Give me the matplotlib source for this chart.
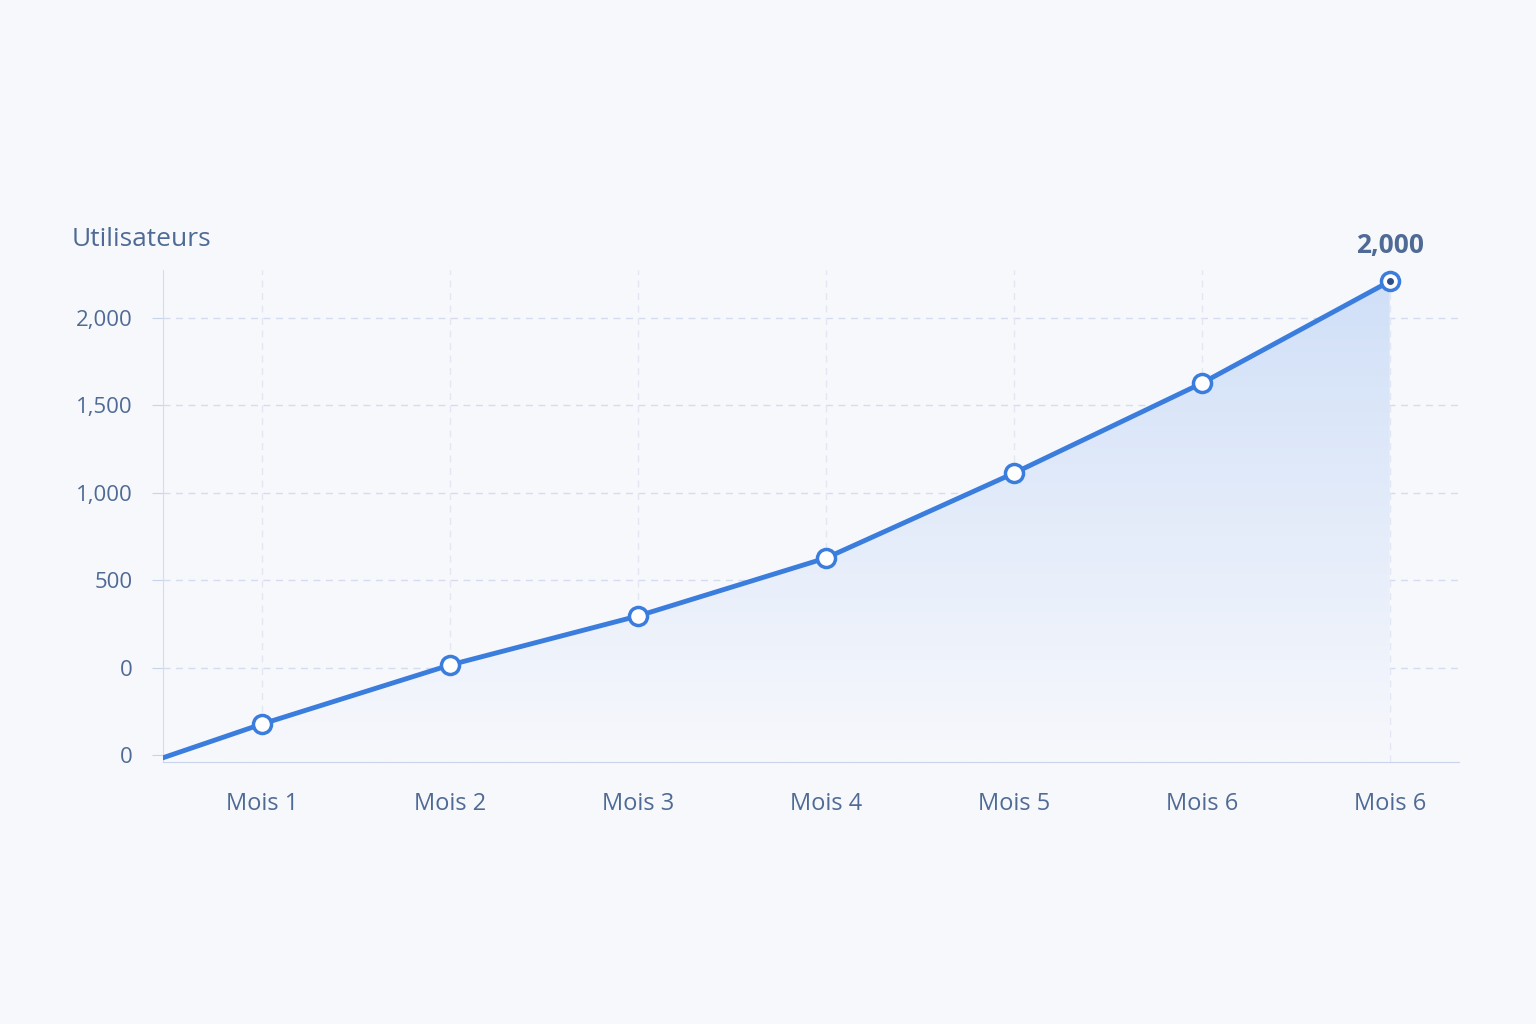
import numpy as np
import matplotlib.pyplot as plt
from matplotlib.patches import Polygon

plt.rcParams['font.family'] = ['Open Sans', 'DejaVu Sans']

months = ["Mois 1", "Mois 2", "Mois 3", "Mois 4", "Mois 5", "Mois 6", "Mois 6"]
x_pos = [1, 2, 3, 4, 5, 6, 7]
users = [-320, 17, 297, 628, 1113, 1627, 2209]
start_x, start_y = 0.47, -514
ytick_vals = [-500, 0, 500, 1000, 1500, 2000]
ytick_labels = ["0", "0", "500", "1,000", "1,500", "2,000"]

bg = "#f7f8fc"
blue = "#3b7ddd"
text_col = "#4f6b95"

fig = plt.figure(figsize=(15.36, 10.24), dpi=100, facecolor=bg)
ax = fig.add_axes([0.106, 0.256, 0.844, 0.48])
ax.set_facecolor(bg)

xs = [start_x] + x_pos
ys = [start_y] + users
ax.set_xlim(0.47, 7.37)
ax.set_ylim(-537, 2272)

# gradient fill under the line
grad = np.linspace(0.0, 0.3, 256).reshape(-1, 1)
cmap = plt.matplotlib.colors.LinearSegmentedColormap.from_list("g", [bg, "#c9dbf7"])
im = ax.imshow(grad, extent=[start_x, 7, -537, 2272], origin="lower",
               aspect="auto", cmap=cmap, vmin=0, vmax=0.35, zorder=1)
poly = Polygon(list(zip(xs, ys)) + [(7, -537), (start_x, -537)], closed=True,
               transform=ax.transData, facecolor="none", edgecolor="none")
ax.add_patch(poly)
im.set_clip_path(poly)

for v in ytick_vals[1:]:
    ax.axhline(v, color="#d5dcef", lw=1, ls=(0, (5, 4)), zorder=0)
for xp in x_pos:
    ax.axvline(xp, color="#e3e7f4", lw=1, ls=(0, (5, 4)), zorder=0)

ax.plot(xs, ys, color=blue, lw=3.5, zorder=3, solid_capstyle="round")
ax.plot(x_pos, users, "o", ms=13, mfc="white", mec=blue, mew=2.5, zorder=4)
ax.plot(x_pos[-1], users[-1], "o", ms=4, color="#2a4f8a", zorder=5)

ax.annotate("2,000", (x_pos[-1], users[-1]), xytext=(0, 16), textcoords="offset points",
            ha="center", va="bottom", fontsize=19, fontweight="bold", color=text_col)

ax.set_xticks(x_pos)
ax.set_xticklabels(months, fontsize=17, color=text_col)
ax.set_yticks(ytick_vals)
ax.set_yticklabels(ytick_labels, fontsize=16, color=text_col)
ax.tick_params(axis="x", length=0, pad=22)
ax.tick_params(axis="y", length=8, color="#c9d3ea", pad=14)
for s in ["top", "right"]:
    ax.spines[s].set_visible(False)
ax.spines["left"].set_color("#d5dcef")
ax.spines["bottom"].set_color("#c9d3ea")

fig.text(72 / 1536, 1 - 240 / 1024, "Utilisateurs", fontsize=19, color=text_col, va="center")

fig.savefig("out.png", dpi=100, facecolor=bg)
